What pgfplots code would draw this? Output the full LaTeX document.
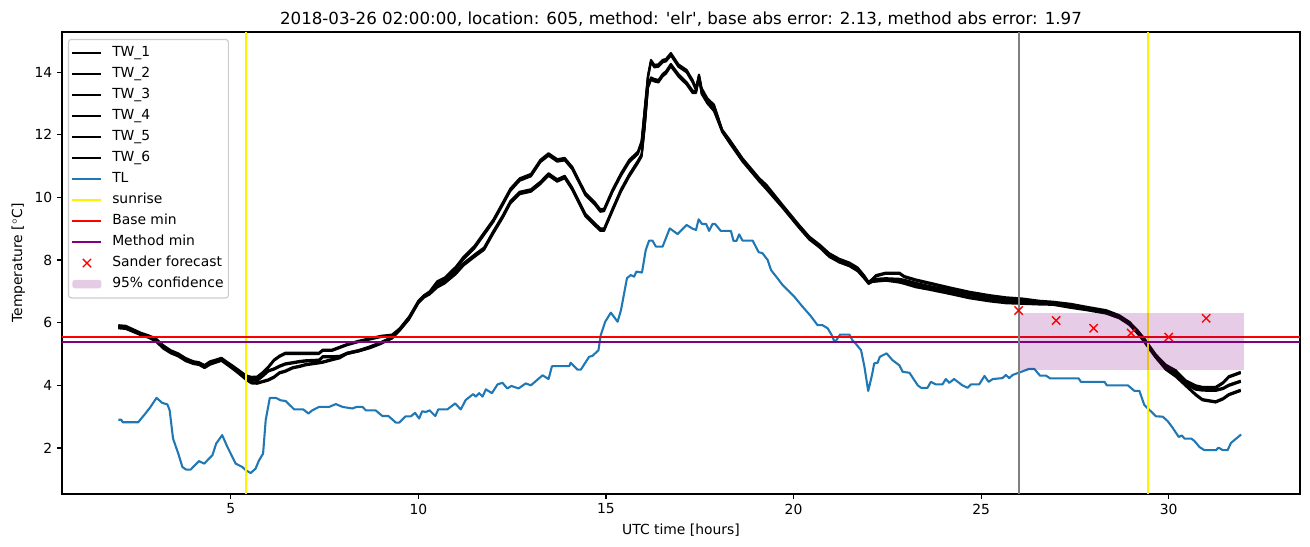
\documentclass[border=0pt]{standalone}
\usepackage{fontspec}
\setmainfont{DejaVu Sans}[Ligatures=TeXOff]
\usepackage{pgfplots}
\usepackage{pgfplotstable}
\pgfplotsset{compat=1.18}
\definecolor{tabblue}{RGB}{31,119,180}
\definecolor{mplpurple}{RGB}{128,0,128}
\definecolor{mplgray}{RGB}{128,128,128}
\definecolor{legframe}{RGB}{204,204,204}
\pgfplotsset{confleg/.style={legend image code/.code={\fill[##1] (0pt,-3.1pt) rectangle (21pt,3.1pt);}}}

\pgfplotstableread{
x t1 t2 t3 t4 t5 t6
2.00 5.92 5.88 5.89 5.85 5.86 5.82
2.20 5.90 5.86 5.86 5.82 5.84 5.80
2.40 5.79 5.75 5.76 5.72 5.74 5.70
2.60 5.68 5.64 5.65 5.61 5.64 5.60
2.80 5.60 5.56 5.58 5.54 5.56 5.52
3.00 5.50 5.46 5.47 5.43 5.44 5.40
3.20 5.28 5.24 5.24 5.20 5.21 5.17
3.40 5.12 5.08 5.09 5.05 5.06 5.02
3.60 5.02 4.98 4.99 4.95 4.96 4.92
3.80 4.87 4.83 4.84 4.80 4.81 4.77
4.00 4.77 4.73 4.74 4.70 4.72 4.68
4.15 4.74 4.70 4.72 4.68 4.69 4.65
4.30 4.65 4.61 4.62 4.58 4.59 4.55
4.45 4.77 4.73 4.74 4.70 4.70 4.66
4.60 4.82 4.78 4.79 4.75 4.76 4.72
4.75 4.88 4.84 4.86 4.82 4.82 4.78
4.90 4.75 4.71 4.72 4.68 4.69 4.65
5.05 4.63 4.59 4.60 4.56 4.56 4.52
5.20 4.50 4.46 4.47 4.43 4.42 4.38
5.40 4.32 4.28 4.27 4.23 4.22 4.18
5.55 4.27 4.23 4.20 4.16 4.10 4.06
5.70 4.28 4.24 4.18 4.14 4.09 4.05
5.85 4.42 4.38 4.32 4.28 4.14 4.10
6.00 4.60 4.56 4.48 4.44 4.19 4.15
6.15 4.82 4.78 4.54 4.50 4.28 4.24
6.30 4.95 4.91 4.63 4.59 4.42 4.38
6.45 5.04 5.00 4.70 4.66 4.47 4.43
6.65 5.04 5.00 4.74 4.70 4.58 4.54
6.85 5.04 5.00 4.78 4.74 4.63 4.59
7.00 5.04 5.00 4.80 4.76 4.68 4.64
7.35 5.04 5.00 4.82 4.78 4.74 4.70
7.45 5.14 5.10 4.93 4.89 4.76 4.72
7.70 5.14 5.10 4.93 4.89 4.84 4.80
7.90 5.23 5.19 4.94 4.90 4.90 4.86
8.10 5.32 5.28 5.04 5.00 5.04 5.00
8.40 5.42 5.38 5.12 5.08 5.12 5.08
8.70 5.50 5.46 5.24 5.20 5.22 5.18
9.00 5.58 5.54 5.38 5.34 5.36 5.32
9.30 5.62 5.58 5.54 5.50 5.54 5.50
9.50 5.82 5.78 5.80 5.76 5.78 5.74
9.75 6.19 6.15 6.16 6.12 6.14 6.10
10.00 6.70 6.66 6.68 6.64 6.66 6.62
10.15 6.88 6.84 6.86 6.82 6.84 6.80
10.30 7.00 6.96 6.97 6.93 6.94 6.90
10.50 7.32 7.28 7.24 7.20 7.16 7.12
10.70 7.44 7.40 7.36 7.33 7.29 7.25
11.00 7.79 7.75 7.71 7.63 7.59 7.55
11.20 8.10 8.06 8.02 7.90 7.86 7.82
11.50 8.46 8.42 8.38 8.18 8.14 8.10
11.75 8.88 8.84 8.80 8.40 8.36 8.32
12.00 9.30 9.26 9.22 8.93 8.89 8.85
12.25 9.84 9.80 9.76 9.43 9.39 9.35
12.45 10.28 10.24 10.20 9.88 9.84 9.80
12.70 10.61 10.57 10.53 10.18 10.14 10.10
13.00 10.75 10.71 10.67 10.26 10.22 10.18
13.25 11.20 11.16 11.12 10.50 10.46 10.42
13.47 11.41 11.37 11.33 10.77 10.73 10.69
13.70 11.22 11.18 11.14 10.58 10.54 10.50
13.90 11.26 11.22 11.18 10.69 10.65 10.61
14.10 10.98 10.94 10.90 10.32 10.28 10.24
14.45 10.15 10.11 10.07 9.48 9.44 9.40
14.70 9.85 9.81 9.77 9.18 9.14 9.10
14.85 9.62 9.58 9.54 9.01 8.97 8.93
14.95 9.64 9.60 9.56 9.01 8.97 8.93
15.17 10.24 10.20 10.16 9.63 9.59 9.55
15.40 10.77 10.73 10.69 10.26 10.22 10.18
15.62 11.20 11.16 11.12 10.74 10.70 10.66
15.85 11.46 11.42 11.38 11.17 11.13 11.09
15.95 11.80 11.76 11.72 11.38 11.34 11.30
16.03 12.80 12.76 12.72 12.28 12.24 12.20
16.12 13.90 13.86 13.82 13.58 13.54 13.50
16.20 14.39 14.35 14.31 13.83 13.79 13.75
16.29 14.23 14.19 14.15 13.78 13.74 13.70
16.40 14.25 14.21 14.17 13.75 13.71 13.67
16.51 14.39 14.35 14.31 13.94 13.90 13.86
16.60 14.42 14.38 14.34 14.03 13.99 13.95
16.73 14.61 14.57 14.53 14.26 14.22 14.18
16.93 14.25 14.21 14.17 13.94 13.90 13.86
17.15 14.07 14.03 13.99 13.68 13.64 13.60
17.31 13.75 13.71 13.67 13.41 13.37 13.33
17.40 13.49 13.45 13.42 13.38 13.37 13.33
17.48 13.92 13.88 13.87 13.83 13.86 13.82
17.55 13.49 13.45 13.42 13.38 13.34 13.30
17.70 13.17 13.13 13.07 13.03 13.04 13.00
17.88 12.96 12.92 12.87 12.83 12.79 12.75
18.10 12.16 12.12 12.14 12.10 12.12 12.08
18.30 11.84 11.80 11.80 11.76 11.76 11.72
18.64 11.25 11.21 11.22 11.18 11.18 11.14
19.09 10.61 10.57 10.57 10.53 10.54 10.50
19.28 10.40 10.36 10.34 10.30 10.29 10.25
19.71 9.76 9.72 9.72 9.68 9.70 9.66
20.15 9.12 9.08 9.09 9.05 9.06 9.02
20.42 8.75 8.71 8.72 8.68 8.69 8.65
20.69 8.50 8.46 8.47 8.43 8.44 8.40
20.95 8.22 8.18 8.18 8.14 8.14 8.10
21.22 8.04 8.00 8.00 7.96 7.96 7.92
21.49 7.92 7.88 7.88 7.84 7.84 7.80
21.71 7.76 7.72 7.72 7.68 7.68 7.64
21.89 7.50 7.46 7.47 7.43 7.44 7.40
22.00 7.30 7.26 7.28 7.24 7.28 7.24
22.10 7.40 7.36 7.36 7.32 7.34 7.30
22.20 7.52 7.48 7.40 7.36 7.35 7.31
22.46 7.60 7.56 7.42 7.38 7.38 7.34
22.82 7.60 7.56 7.40 7.36 7.32 7.28
22.95 7.49 7.45 7.37 7.33 7.28 7.24
23.26 7.38 7.34 7.27 7.23 7.17 7.13
23.62 7.28 7.24 7.17 7.13 7.09 7.05
24.15 7.13 7.09 7.04 7.00 6.96 6.92
24.68 6.99 6.95 6.92 6.88 6.82 6.78
25.22 6.88 6.84 6.80 6.76 6.72 6.68
25.66 6.81 6.77 6.74 6.70 6.66 6.62
26.11 6.77 6.73 6.70 6.66 6.64 6.60
26.55 6.70 6.66 6.67 6.63 6.62 6.58
26.91 6.67 6.63 6.64 6.60 6.61 6.57
27.40 6.60 6.56 6.55 6.51 6.51 6.47
27.80 6.51 6.47 6.47 6.43 6.44 6.40
28.33 6.40 6.36 6.36 6.32 6.33 6.29
28.68 6.24 6.20 6.21 6.17 6.18 6.14
28.95 6.03 5.99 6.00 5.96 5.97 5.93
29.17 5.76 5.72 5.72 5.68 5.69 5.65
29.35 5.50 5.46 5.46 5.42 5.42 5.38
29.48 5.28 5.24 5.24 5.20 5.20 5.16
29.66 4.98 4.94 4.95 4.91 4.91 4.87
29.92 4.66 4.62 4.60 4.56 4.54 4.50
30.19 4.48 4.44 4.40 4.36 4.31 4.27
30.45 4.16 4.12 4.08 4.04 4.02 3.98
30.72 4.00 3.96 3.90 3.86 3.72 3.68
30.90 3.95 3.91 3.87 3.83 3.56 3.52
31.25 3.95 3.91 3.86 3.82 3.49 3.45
31.45 4.10 4.06 3.92 3.88 3.59 3.55
31.60 4.29 4.25 4.02 3.98 3.72 3.68
31.92 4.43 4.39 4.15 4.11 3.86 3.82
}\twdata

\pgfplotstableread{
x y
2.00 2.90
2.08 2.90
2.12 2.82
2.53 2.82
2.69 3.05
2.86 3.31
3.02 3.60
3.17 3.44
3.31 3.39
3.37 3.20
3.46 2.30
3.60 1.82
3.71 1.39
3.81 1.31
3.93 1.31
4.15 1.58
4.29 1.50
4.51 1.77
4.61 2.14
4.77 2.41
4.91 2.03
5.13 1.50
5.31 1.39
5.40 1.29
5.53 1.20
5.66 1.34
5.75 1.60
5.86 1.82
5.93 2.89
6.04 3.60
6.20 3.60
6.33 3.52
6.46 3.50
6.69 3.23
6.93 3.23
7.07 3.10
7.17 3.20
7.35 3.31
7.62 3.31
7.80 3.40
7.98 3.31
8.24 3.26
8.35 3.31
8.51 3.31
8.60 3.20
8.86 3.20
9.04 3.02
9.20 3.02
9.40 2.81
9.49 2.81
9.66 3.01
9.80 3.01
9.91 3.12
10.02 2.94
10.10 3.17
10.20 3.15
10.30 3.20
10.45 3.02
10.53 3.23
10.77 3.23
10.98 3.42
11.13 3.23
11.26 3.53
11.46 3.72
11.53 3.64
11.62 3.75
11.71 3.64
11.80 3.87
11.96 3.75
12.11 4.03
12.24 4.08
12.37 3.90
12.48 3.98
12.67 3.90
12.86 4.06
13.00 4.00
13.31 4.32
13.47 4.20
13.56 4.61
14.02 4.61
14.06 4.72
14.24 4.50
14.33 4.50
14.55 4.91
14.64 4.94
14.80 5.12
14.86 5.60
14.98 6.03
15.13 6.32
15.31 6.03
15.40 6.40
15.56 7.42
15.66 7.52
15.75 7.47
15.81 7.63
15.96 7.60
16.06 8.32
16.15 8.62
16.24 8.62
16.33 8.43
16.51 8.43
16.70 9.01
16.91 8.83
17.15 9.12
17.31 9.00
17.40 8.96
17.47 9.30
17.56 9.15
17.67 9.15
17.75 8.93
17.84 9.15
17.91 9.15
18.06 8.93
18.33 8.93
18.40 8.61
18.48 8.61
18.55 8.82
18.64 8.62
18.91 8.62
19.07 8.25
19.17 8.22
19.31 8.00
19.40 7.68
19.57 7.42
19.71 7.20
20.02 6.83
20.24 6.51
20.46 6.21
20.64 5.92
20.77 5.92
20.91 5.82
21.02 5.60
21.08 5.42
21.13 5.42
21.24 5.62
21.49 5.62
21.57 5.44
21.65 5.34
21.80 5.12
21.89 4.59
21.99 3.82
22.09 4.32
22.15 4.70
22.24 4.72
22.30 4.91
22.48 5.02
22.64 4.80
22.82 4.64
22.91 4.43
23.09 4.40
23.31 4.00
23.40 3.92
23.57 3.92
23.66 4.11
23.79 4.03
23.97 4.03
24.06 4.20
24.15 4.08
24.28 4.20
24.50 4.00
24.64 3.92
24.73 4.03
24.95 4.03
25.09 4.30
25.20 4.11
25.31 4.20
25.57 4.23
25.66 4.33
25.75 4.23
25.84 4.33
26.02 4.41
26.27 4.52
26.42 4.52
26.57 4.31
26.73 4.31
26.84 4.22
27.60 4.22
27.66 4.11
28.29 4.11
28.35 4.00
28.91 4.00
29.09 3.82
29.22 3.82
29.35 3.37
29.49 3.21
29.66 3.01
29.84 3.00
29.97 2.86
30.09 2.67
30.27 2.35
30.35 2.40
30.42 2.30
30.60 2.30
30.69 2.22
30.82 2.03
30.95 1.93
31.26 1.93
31.33 2.01
31.44 1.93
31.57 1.93
31.66 2.16
31.93 2.43
}\tldata

\begin{document}
\begin{tikzpicture}
\begin{axis}[
  at={(0,0)}, anchor=south west,
  scale only axis, width=891.36pt, height=332.64pt,
  xmin=0.5, xmax=33.5, ymin=0.53, ymax=15.28,
  xtick={5,10,15,20,25,30}, ytick={2,4,6,8,10,12,14},
  tick align=outside, tick pos=left, major tick length=3.5pt,
  every tick/.style={black, line width=0.8pt},
  axis line style={line width=0.8pt},
  /pgf/number format/assume math mode=true,
  tick label style={font=\fontsize{10}{12}\selectfont},
  label style={font=\fontsize{10}{12}\selectfont},
  title style={font=\fontsize{12}{14}\selectfont, anchor=base, yshift=-0.3pt},
  title={2018-03-26 02:00:00, location: 605, method: 'elr', base abs error: 2.13, method abs error: 1.97},
  xlabel={UTC time [hours]},
  ylabel={Temperature [$^\circ$C]},
  every axis plot/.append style={line width=1.5pt, line join=round},
  legend image code/.code={\draw[mark repeat=2,mark phase=2,#1] plot coordinates {(0pt,0pt) (10.5pt,0pt) (21pt,0pt)};},
  legend cell align=left,
  legend style={at={(0.0048,0.985)}, anchor=north west, draw=legframe, line width=0.8pt,
    rounded corners=2pt, fill=white, fill opacity=0.8, text opacity=1,
    font=\fontsize{10}{12}\selectfont, inner xsep=2pt, inner ysep=3.5pt, row sep=2.1pt,
    /tikz/every odd column/.append style={column sep=5.5pt},
    nodes={inner sep=1.5pt, text height=7.6pt, text depth=2.4pt}},
]
\addplot[black] table[x=x, y=t1] {\twdata};
\addlegendentry{TW\_1}
\addplot[black] table[x=x, y=t2] {\twdata};
\addlegendentry{TW\_2}
\addplot[black] table[x=x, y=t3] {\twdata};
\addlegendentry{TW\_3}
\addplot[black] table[x=x, y=t4] {\twdata};
\addlegendentry{TW\_4}
\addplot[black] table[x=x, y=t5] {\twdata};
\addlegendentry{TW\_5}
\addplot[black] table[x=x, y=t6] {\twdata};
\addlegendentry{TW\_6}
\addplot[tabblue] table[x=x, y=y] {\tldata};
\addlegendentry{TL}
\addplot[yellow] coordinates {(5.40,0.53) (5.40,15.28)};
\addlegendentry{sunrise}
\addplot[yellow, forget plot] coordinates {(29.45,0.53) (29.45,15.28)};
\addplot[red] coordinates {(0.5,5.55) (33.5,5.55)};
\addlegendentry{Base min}
\addplot[mplpurple] coordinates {(0.5,5.39) (33.5,5.39)};
\addlegendentry{Method min}
\addplot[only marks, red, mark=x, mark size=4.2pt, mark options={line width=1pt}] coordinates {
(26,6.39) (27,6.07) (28,5.82) (29,5.67) (30,5.54) (31,6.14)};
\addlegendentry{Sander forecast}
\addplot[draw=none, fill=mplpurple, fill opacity=0.2, confleg]
  coordinates {(26,4.49) (32,4.49) (32,6.31) (26,6.31)} -- cycle;
\addlegendentry{95\% confidence}
\addplot[mplgray, forget plot] coordinates {(26,0.53) (26,15.28)};
\end{axis}
\pgfresetboundingbox
\path (-44.64pt,-38.16pt) rectangle (898.56pt,355.68pt);
\end{tikzpicture}
\end{document}
